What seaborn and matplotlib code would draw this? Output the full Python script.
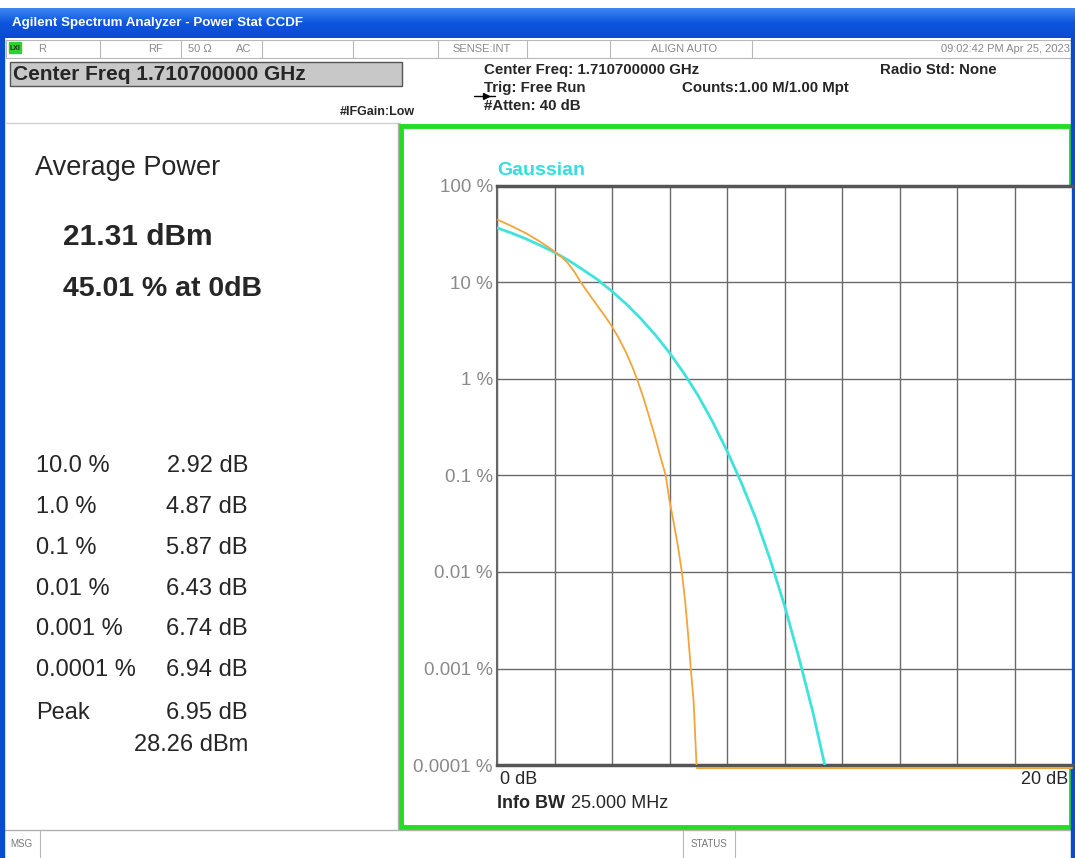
import numpy as np
import pandas as pd
import matplotlib
matplotlib.use("Agg")
import matplotlib.pyplot as plt
from matplotlib.patches import Rectangle
import seaborn as sns

# ---- data ----
gauss_db = [0, 0.5, 1, 1.5, 2, 2.5, 3, 3.5, 4, 4.5, 5, 5.5, 6, 6.5, 7, 7.5,
            8, 8.5, 9, 9.5, 10, 10.5, 11, 11.4]
gauss_pct = [36.8, 32.6, 28.4, 24.3, 20.5, 16.9, 13.5, 10.7, 8.1, 5.97, 4.23,
             2.88, 1.87, 1.15, 0.67, 0.36, 0.18, 0.084, 0.036, 0.0135, 0.0045,
             0.0013, 0.00034, 0.0001]

meas_db = [0, 0.5, 1, 1.5, 2, 2.25, 2.45, 2.7, 2.92, 3.2, 3.5, 3.75, 4.0,
           4.25, 4.5, 4.7, 4.87, 5.1, 5.3, 5.5, 5.7, 5.87, 6.0, 6.15, 6.3,
           6.43, 6.55, 6.65, 6.74, 6.84, 6.94]
meas_pct = [45.0, 38.5, 32.5, 26.5, 21.0, 18.3, 16.1, 12.8, 10.0, 7.6, 5.7,
            4.5, 3.5, 2.6, 1.85, 1.35, 1.0, 0.63, 0.4, 0.25, 0.15, 0.1, 0.055,
            0.032, 0.018, 0.01, 0.0048, 0.0022, 0.001, 0.00045, 0.0001]
floor_db = [6.95, 20]
floor_pct = [0.000093, 0.000093]

stat_labels = ["10.0 %", "1.0 %", "0.1 %", "0.01 %", "0.001 %", "0.0001 %", "Peak"]
stat_values = ["2.92 dB", "4.87 dB", "5.87 dB", "6.43 dB", "6.74 dB", "6.94 dB", "6.95 dB"]
peak_dbm = "28.26 dBm"
avg_power = "21.31 dBm"
pct_at_0 = "45.01 % at 0dB"

y_ticks = [100, 10, 1, 0.1, 0.01, 0.001, 0.0001]
y_ticklabels = ["100 %", "10 %", "1 %", "0.1 %", "0.01 %", "0.001 %", "0.0001 %"]

sns.set_style("white")
plt.rcParams['font.family'] = ['Liberation Sans', 'DejaVu Sans']

W, H = 1075, 858
fig = plt.figure(figsize=(W / 100, H / 100), dpi=100)

# background axes in pixel coordinates
bg = fig.add_axes([0, 0, 1, 1])
bg.set_xlim(0, W)
bg.set_ylim(H, 0)
bg.axis('off')

# title bar
grad = np.linspace(0, 1, 30).reshape(-1, 1)
bar_cmap = matplotlib.colors.LinearSegmentedColormap.from_list(
    'xp', ['#3d86f2', '#0d55de', '#0a4ccf'])
bg.imshow(grad, cmap=bar_cmap, extent=[0, W, 38, 8], aspect='auto', zorder=1)
bg.text(12, 23, "Agilent Spectrum Analyzer - Power Stat CCDF", color='white',
        fontsize=9.6, fontweight='bold', va='center', zorder=3)

# side window borders
bg.add_patch(Rectangle((0, 38), 4, H - 38, color='#0a4cd0', zorder=5))
bg.add_patch(Rectangle((W - 4, 38), 4, H - 38, color='#0a4cd0', zorder=5))

# status row
bg.add_patch(Rectangle((6, 40), W - 10, 18, fc='white', ec='#b8b8b8', lw=0.8, zorder=2))
for sx in [100, 181, 262, 353, 438, 527, 610, 752]:
    bg.plot([sx, sx], [40, 58], color='#b8b8b8', lw=0.8, zorder=3)
bg.add_patch(Rectangle((9, 42), 12, 11, color='#2fd02f', zorder=3))
bg.text(15, 48, "LXI", fontsize=5, fontweight='bold', ha='center', va='center', zorder=4)
gray_small = dict(fontsize=8, color='#8a8a8a', va='center', zorder=4)
bg.text(38, 49, "R", **gray_small)
bg.text(148, 49, "RF", **gray_small)
bg.text(188, 49, "50 \u03a9", **gray_small)
bg.text(236, 49, "AC", **gray_small)
bg.text(482, 49, "SENSE:INT", ha='center', **gray_small)
bg.text(684, 49, "ALIGN AUTO", ha='center', **gray_small)
bg.text(1070, 49, "09:02:42 PM Apr 25, 2023", ha='right', **gray_small)

# center freq box
bg.add_patch(Rectangle((10, 62), 392, 24, fc='#c8c8c8', ec='#555555', lw=1, zorder=2))
bg.text(13, 74, "Center Freq 1.710700000 GHz", fontsize=15, fontweight='bold',
        va='center', zorder=3)

hdr = dict(fontsize=10.8, fontweight='bold', va='center', zorder=3)
bg.text(484, 70, "Center Freq: 1.710700000 GHz", **hdr)
bg.text(484, 88, "Trig: Free Run", **hdr)
bg.text(484, 106, "#Atten: 40 dB", **hdr)
bg.text(682, 88, "Counts:1.00 M/1.00 Mpt", **hdr)
bg.text(880, 70, "Radio Std: None", **hdr)
bg.text(340, 112, "#IFGain:Low", fontsize=9, fontweight='bold', va='center', zorder=3)
bg.plot([474, 495], [96, 96], color='black', lw=1, zorder=3)
bg.plot([486], [96], marker='>', color='black', ms=4, zorder=3)

# left panel
bg.plot([6, 400], [123, 123], color='#d0d0d0', lw=1, zorder=2)
bg.plot([398, 398], [123, 829], color='#b0b0b0', lw=1, zorder=2)
bg.text(35, 168, "Average Power", fontsize=19.5, va='center', zorder=3)
bg.text(63, 237, avg_power, fontsize=21.5, fontweight='bold', va='center', zorder=3)
bg.text(63, 289, pct_at_0, fontsize=20.5, fontweight='bold', va='center', zorder=3)
row_y = [466, 507, 548, 589, 629, 670, 713]
for ry, lab, val in zip(row_y, stat_labels, stat_values):
    bg.text(36, ry, lab, fontsize=17, va='center', zorder=3)
    bg.text(248, ry, val, fontsize=17, va='center', ha='right', zorder=3)
bg.text(248, 745, peak_dbm, fontsize=17, va='center', ha='right', zorder=3)

# green frame around the graph
bg.add_patch(Rectangle((401, 126), W - 4 - 401, 701, fill=False,
                       ec='#22dd22', lw=3.5, zorder=4))

# bottom message bar
bg.plot([4, W - 4], [830, 830], color='#b0b0b0', lw=1, zorder=2)
for sx in [40, 683, 735]:
    bg.plot([sx, sx], [831, 858], color='#b8b8b8', lw=0.8, zorder=2)
bg.text(10, 844, "MSG", fontsize=7, color='#777777', va='center', zorder=3)
bg.text(709, 844, "STATUS", fontsize=7, color='#777777', va='center', ha='center', zorder=3)

# ---- CCDF graph ----
x0, x1, y0, y1 = 497, 1072, 186, 765
ax = fig.add_axes([x0 / W, 1 - y1 / H, (x1 - x0) / W, (y1 - y0) / H])
ax.set_facecolor('white')
ax.set_yscale('log')
ax.set_xlim(0, 20)
ax.set_ylim(0.0001, 100)

sns.lineplot(x=gauss_db, y=gauss_pct, color='#3fe3dc', linewidth=2, ax=ax, zorder=4)
sns.lineplot(x=meas_db, y=meas_pct, color='#f2a53a', linewidth=1.3, ax=ax, zorder=5)
sns.lineplot(x=floor_db, y=floor_pct, color='#f2a53a', linewidth=1.5, ax=ax,
             zorder=6, clip_on=False)

ax.set_xticks(np.arange(0, 21, 2))
ax.set_xticklabels([])
ax.set_yticks(y_ticks)
ax.set_yticklabels(y_ticklabels)
ax.yaxis.set_minor_locator(matplotlib.ticker.NullLocator())
ax.tick_params(axis='both', length=0)
ax.tick_params(axis='y', labelsize=13.5, labelcolor='#8a8a8a', pad=3)
ax.grid(True, color='#6a6a6a', linewidth=1)
ax.set_xlabel('')
ax.set_ylabel('')
for side in ['top', 'bottom']:
    ax.spines[side].set_color('#555555')
    ax.spines[side].set_linewidth(2.5)
ax.spines['left'].set_color('#666666')
ax.spines['left'].set_linewidth(1.5)
ax.spines['right'].set_visible(False)

ax.text(0, 1.012, "Gaussian", transform=ax.transAxes, color='#33dede',
        fontsize=14, fontweight='bold', va='bottom', ha='left')

bg.text(500, 779, "0 dB", fontsize=13, va='center', zorder=3)
bg.text(1068, 779, "20 dB", fontsize=13, va='center', ha='right', zorder=3)
bg.text(497, 804, "Info BW", fontsize=13, fontweight='bold', va='center', zorder=3)
bg.text(571, 804, "25.000 MHz", fontsize=13, va='center', zorder=3)

fig.savefig('out.png', dpi=100)
